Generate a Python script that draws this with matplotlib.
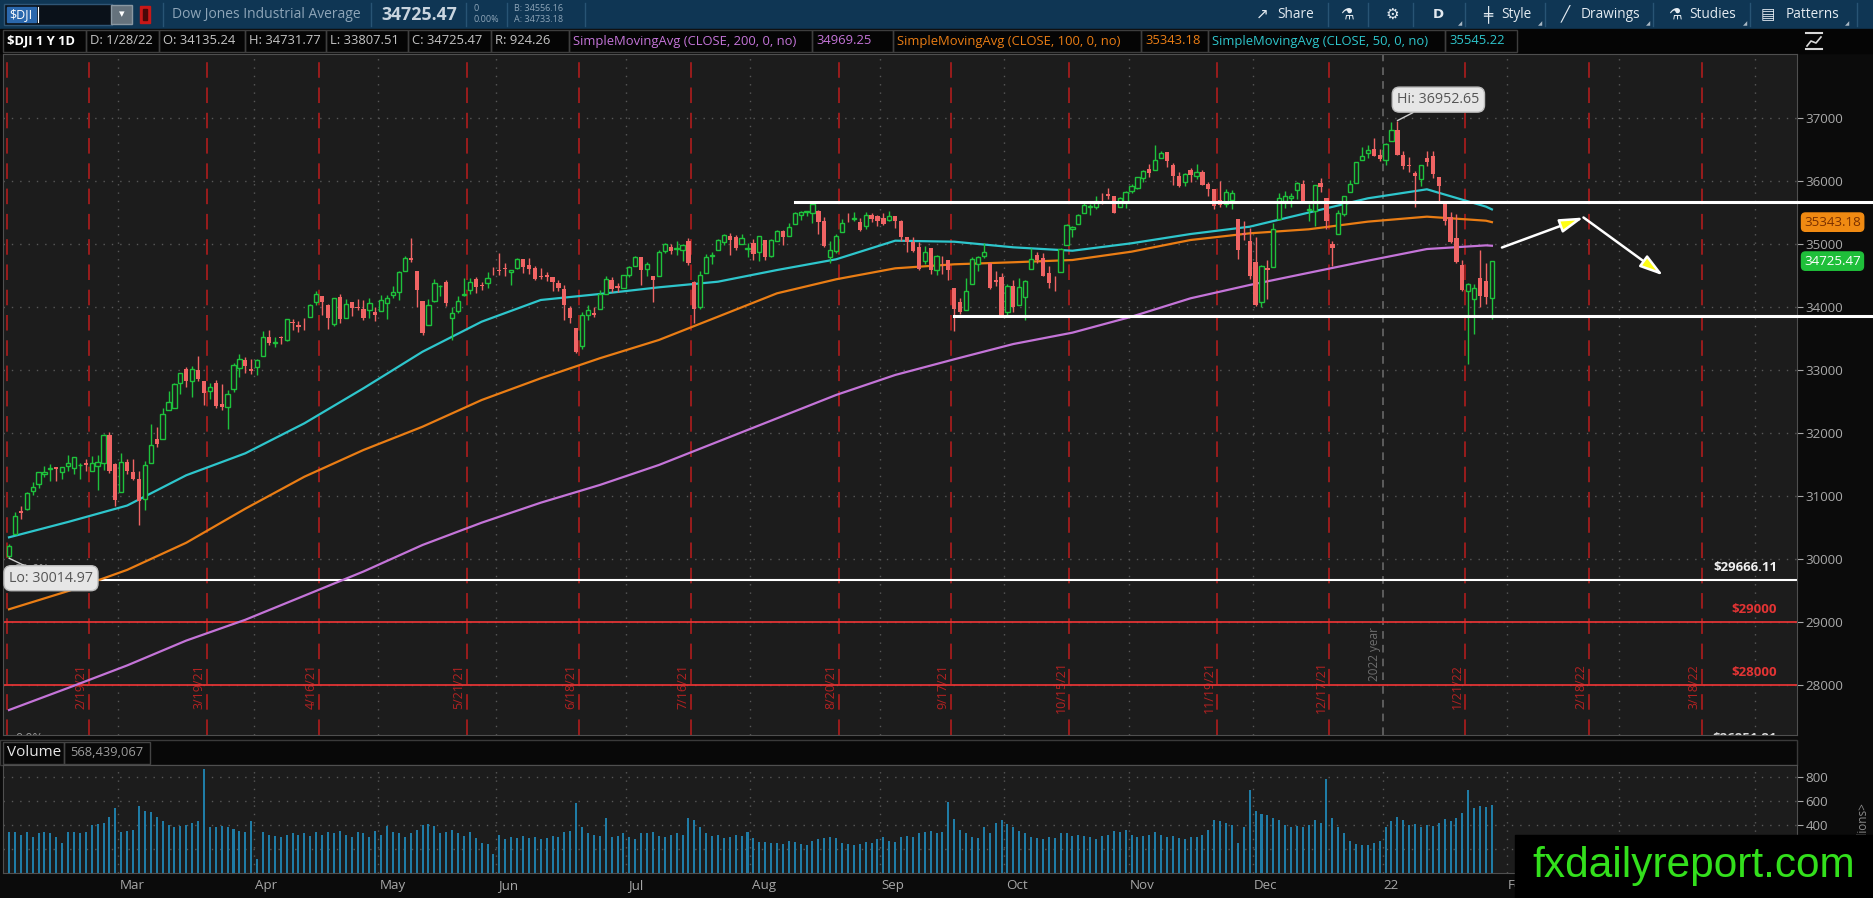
import numpy as np
import pandas as pd
import matplotlib
matplotlib.use('Agg')
import matplotlib.pyplot as plt
from matplotlib.patches import Rectangle

plt.rcParams['font.family'] = ['Open Sans', 'DejaVu Sans']

W, H = 1873, 898

# ---------------- data ----------------
holidays = ['2021-02-15', '2021-04-02', '2021-05-31', '2021-07-05', '2021-09-06',
            '2021-11-25', '2021-12-24', '2022-01-17', '2022-02-21', '2022-04-15']

opens = [
    30054, 30397, 30762, 30802, 31079, 31184, 31352, 31436, 31458, 31385, 31482, 31450, 31491, 31532, 31393, 31471, 31532, 31961, 31508,
    31066, 31540, 31383, 31273, 30946, 31532, 31902, 31907, 32359, 32400, 32793, 33010, 32820, 32994, 32826, 32666, 32787, 32465, 32405, 32699, 33023, 33158, 33021,
    33054, 33222, 33529, 33421, 33521, 33480, 33762, 33712, 33733, 33840, 34082, 34169, 34032, 33734, 34150, 33823, 34080, 33998, 33968, 33946, 33921,
    33931, 34065, 34185, 34240, 34576, 34776, 34565, 34099, 33716, 34092, 34324, 34401, 33830, 33929, 34185, 34264, 34438, 34351, 34372, 34536,
    34584, 34614, 34550, 34618, 34760, 34665, 34623, 34493, 34499, 34474, 34377, 34289, 33983, 33670, 33373, 33867, 33910, 33968, 34210, 34427, 34325, 34302,
    34507, 34643, 34788, 34604, 34486, 34483, 34887, 34953, 34916, 34900, 35044, 34402, 34005, 34540, 34807, 34894, 35035, 35120, 35107, 34998, 34914,
    35010, 34877, 35053, 34811, 35042, 35200, 35125, 35315, 35464, 35505, 35482, 35526, 35361, 34795, 34880, 35186, 35368, 35398, 35353, 35276, 35451, 35445,
    35402, 35376, 35433, 35368, 35112, 35028, 34952, 34731, 34938, 34578, 34762, 34748, 34304, 34074, 33949, 34360, 34681, 34812, 34702, 34429, 34471,
    33919, 34330, 34029, 34156, 34604, 34816, 34770, 34543, 34381, 34552, 34981, 35236, 35316, 35484, 35591, 35590, 35747, 35786, 35750, 35580, 35670,
    35834, 35892, 36050, 36185, 36162, 36356, 36452, 36247, 36082, 35976, 36174, 36068, 36136, 35945, 35875, 35687, 35623, 35701, 35400, 35176, 35040,
    34715, 34074, 34611, 34637, 35390, 35677, 35728, 35858, 35942, 35534, 35527, 35958, 35726, 35000, 35149, 35479, 35818, 35956, 36333, 36432, 36502, 36409,
    36322, 36636, 36800, 36409, 36254, 36116, 36034, 36367, 36399, 36055, 35650, 35431, 35089, 34659, 34256, 34125, 34464, 34416, 34135.24,
]
highs = [
    30248, 30743, 30841, 31058, 31228, 31386, 31469, 31512, 31467, 31459, 31644, 31614, 31522, 31583, 31636, 31647, 31992, 32010, 31519,
    31689, 31582, 31594, 31402, 31563, 32150, 32097, 32389, 32662, 32793, 32954, 33048, 33060, 33227, 32828, 32794, 32836, 32773, 32679, 33116, 33259, 33210, 33167,
    33167, 33617, 33629, 33522, 33544, 33810, 33810, 33778, 33826, 34052, 34256, 34169, 34044, 34148, 34197, 34125, 34081, 34123, 34112, 34134, 34004,
    34190, 34181, 34329, 34561, 34811, 35092, 34565, 34099, 34118, 34440, 34353, 34420, 33998, 34174, 34465, 34450, 34466, 34395, 34560, 34627,
    34849, 34703, 34580, 34772, 34760, 34778, 34652, 34624, 34553, 34479, 34424, 34341, 34014, 33671, 33920, 34027, 34005, 34260, 34482, 34472, 34375, 34508,
    34640, 34802, 34788, 34713, 34486, 34898, 35017, 35002, 35052, 35003, 35092, 34403, 34574, 34834, 34867, 35072, 35151, 35171, 35141, 35148, 35009,
    35073, 35120, 35053, 35070, 35224, 35225, 35323, 35498, 35514, 35521, 35632, 35532, 35428, 35039, 35152, 35392, 35481, 35497, 35404, 35497, 35484, 35456,
    35482, 35522, 35443, 35370, 35112, 35113, 35032, 34958, 34938, 34824, 34799, 34748, 34304, 34148, 34465, 34787, 34813, 35006, 34702, 34566, 34534,
    34366, 34429, 34459, 34421, 34937, 34875, 34857, 34651, 34493, 34932, 35310, 35284, 35470, 35670, 35636, 35765, 35798, 35892, 35751, 35744, 35833,
    35944, 36060, 36173, 36261, 36565, 36475, 36453, 36287, 36137, 36125, 36209, 36266, 36171, 35979, 35875, 35990, 35864, 35848, 35400, 35359, 35250,
    35109, 34656, 34737, 35323, 35807, 35836, 35804, 35986, 36016, 35631, 35935, 36043, 35726, 35037, 35542, 35765, 36010, 36304, 36527, 36571, 36679, 36506,
    36595, 36934, 36952.65, 36464, 36380, 36153, 36254, 36475, 36466, 36055, 35650, 35506, 35479, 34743, 34381, 34365, 34904, 34695, 34731.77,
]
lows = [
    30014.97, 30397, 30631, 30785, 31022, 31130, 31302, 31237, 31239, 31275, 31391, 31347, 31268, 31393, 31393, 31100, 31415, 31373, 30848,
    31066, 31348, 31261, 30547, 30775, 31532, 31771, 31907, 32359, 32396, 32618, 32731, 32574, 32817, 32448, 32545, 32396, 32369, 32056, 32657, 32883, 32953, 32937,
    32917, 33222, 33394, 33359, 33406, 33464, 33641, 33594, 33636, 33840, 34028, 33877, 33652, 33701, 33738, 33823, 33856, 33949, 33789, 33831, 33770,
    33931, 33809, 34137, 34104, 34576, 34714, 34000, 33547, 33716, 34084, 34173, 34021, 33473, 33900, 34180, 34210, 34225, 34268, 34300, 34500,
    34502, 34495, 34350, 34601, 34530, 34514, 34427, 34437, 34408, 34248, 34254, 33786, 33741, 33271, 33325, 33786, 33845, 33968, 34210, 34232, 34243, 34293,
    34477, 34643, 34340, 34496, 34076, 34483, 34851, 34833, 34828, 34733, 34656, 33741, 33968, 34540, 34673, 34894, 34973, 34822, 34894, 34998, 34787,
    34750, 34729, 34749, 34796, 35042, 34977, 35125, 35315, 35374, 35433, 35330, 35160, 34955, 34690, 34861, 35181, 35345, 35367, 35196, 35236, 35345, 35283,
    35301, 35367, 35251, 35048, 34868, 34876, 34584, 34682, 34516, 34511, 34528, 34419, 33613, 33887, 33949, 34360, 34568, 34776, 34283, 34332, 33839,
    33853, 33913, 34029, 33785, 34604, 34695, 34486, 34300, 34244, 34552, 34981, 35104, 35316, 35484, 35460, 35553, 35634, 35709, 35490, 35580, 35573,
    35803, 35872, 35981, 36057, 36162, 36354, 36210, 35933, 35903, 35915, 35986, 36032, 35927, 35757, 35546, 35580, 35585, 35546, 34756, 35059, 34445,
    34006, 34003, 34129, 34637, 35390, 35568, 35578, 35703, 35640, 35364, 35276, 35817, 35232, 34647, 35149, 35433, 35818, 35956, 36325, 36362, 36397, 36310,
    36247, 36636, 36407, 36181, 36142, 35577, 35914, 36231, 36048, 35653, 35293, 35010, 34690, 34258, 33100, 33569, 34001, 34040, 33807.51,
]
closes = [
    30212, 30687, 30724, 31056, 31148, 31385, 31375, 31438, 31431, 31458, 31523, 31613, 31494, 31494, 31522, 31537, 31962, 31402, 30932,
    31535, 31392, 31270, 30924, 31496, 31802, 31833, 32297, 32485, 32779, 32953, 32826, 33015, 32862, 32628, 32732, 32423, 32420, 32619, 33072, 33171, 33067, 32982,
    33153, 33527, 33430, 33446, 33504, 33801, 33746, 33677, 33730, 34036, 34200, 34078, 33821, 34137, 33815, 34043, 33981, 33985, 33821, 34061, 33875,
    34113, 34133, 34230, 34549, 34778, 34743, 34270, 33587, 34022, 34382, 34327, 34061, 33896, 34085, 34208, 34394, 34313, 34323, 34465, 34529,
    34575, 34600, 34577, 34756, 34630, 34600, 34447, 34466, 34480, 34394, 34299, 34034, 33823, 33290, 33877, 33946, 33874, 34196, 34434, 34283, 34292, 34503,
    34634, 34786, 34577, 34681, 34422, 34870, 34996, 34889, 34934, 34987, 34688, 33962, 34512, 34798, 34823, 35062, 35144, 35059, 34931, 35085, 34935,
    34838, 35117, 34793, 35065, 35209, 35102, 35265, 35485, 35500, 35515, 35625, 35343, 34961, 34894, 35120, 35336, 35367, 35406, 35213, 35456, 35400, 35361,
    35313, 35444, 35369, 35100, 35031, 34879, 34608, 34870, 34578, 34814, 34751, 34585, 33970, 33919, 34258, 34765, 34798, 34870, 34300, 34391, 33844,
    34326, 34003, 34315, 34417, 34755, 34746, 34496, 34378, 34377, 34912, 35295, 35259, 35458, 35609, 35603, 35677, 35741, 35757, 35491, 35731, 35820,
    35913, 36053, 36158, 36124, 36328, 36432, 36320, 36079, 35921, 36100, 36087, 36142, 35931, 35871, 35602, 35620, 35814, 35804, 34899, 35136, 34484,
    34022, 34640, 34580, 35227, 35719, 35754, 35755, 35971, 35651, 35545, 35927, 35898, 35365, 34932, 35493, 35754, 35951, 36302, 36398, 36488, 36398, 36338,
    36585, 36800, 36408, 36236, 36232, 36068, 36252, 36290, 36114, 35912, 35369, 35029, 34715, 34265, 34365, 34298, 34168, 34161, 34725.47,
]
volume_m = [
    345, 340, 320, 345, 300, 330, 340, 335, 300, 250, 340, 345, 330, 345, 400, 410, 420, 470, 540,
    340, 350, 360, 560, 520, 505, 470, 430, 400, 380, 390, 400, 420, 430, 870, 385, 380, 390, 380, 370, 350, 340, 430,
    120, 340, 320, 310, 300, 320, 330, 320, 330, 310, 340, 320, 340, 330, 350, 320, 300, 340, 330, 300, 350,
    320, 390, 340, 330, 300, 330, 360, 400, 410, 390, 330, 340, 360, 330, 310, 340, 290, 250, 240, 160,
    320, 280, 300, 290, 310, 290, 300, 280, 290, 310, 300, 340, 350, 580, 380, 330, 320, 310, 460, 300, 310, 330,
    300, 280, 330, 330, 340, 310, 300, 320, 330, 320, 460, 440, 380, 330, 310, 320, 290, 300, 320, 310, 340,
    290, 260, 260, 250, 250, 240, 270, 260, 240, 230, 270, 280, 290, 300, 290, 250, 240, 230, 240, 260, 250, 280,
    300, 270, 260, 300, 310, 300, 330, 340, 350, 330, 340, 590, 450, 360, 330, 300, 290, 380, 330, 420, 440,
    410, 380, 350, 330, 300, 290, 280, 300, 290, 330, 330, 310, 320, 310, 300, 280, 310, 320, 350, 340, 360,
    320, 300, 310, 320, 340, 320, 300, 310, 290, 280, 300, 300, 320, 360, 440, 430, 420, 400, 250, 380, 690,
    520, 490, 480, 460, 440, 400, 380, 390, 380, 400, 440, 420, 780, 460, 380, 330, 270, 240, 230, 230, 250, 270,
    380, 430, 470, 440, 400, 410, 380, 400, 390, 420, 450, 430, 460, 500, 690, 540, 560, 550, 568.4,
]
last_volume = 568439067

# moving averages read every 10 sessions
ma_idx = list(range(0, 251, 10)) + [251]
sma50 = [30346, 30590, 30850, 31330, 31678, 32154, 32709, 33289, 33765, 34109, 34204, 34310, 34399,
         34584, 34754, 35049, 35033, 34944, 34890, 35008, 35155, 35271, 35495, 35721, 35864, 35589, 35545.22]
sma100 = [29205, 29494, 29830, 30260, 30800, 31307, 31731, 32100, 32523, 32867, 33185, 33475, 33844,
          34215, 34437, 34611, 34675, 34707, 34743, 34875, 35060, 35166, 35230, 35351, 35430, 35366, 35343.18]
sma200 = [27608, 27958, 28315, 28709, 29039, 29421, 29804, 30225, 30578, 30895, 31176, 31493, 31863,
          32233, 32603, 32920, 33169, 33411, 33591, 33844, 34136, 34347, 34540, 34732, 34917, 34975, 34969.25]

expiries = ['2021-02-19', '2021-03-19', '2021-04-16', '2021-05-21', '2021-06-18', '2021-07-16',
            '2021-08-20', '2021-09-17', '2021-10-15', '2021-11-19', '2021-12-17', '2022-01-21',
            '2022-02-18', '2022-03-18']

fib_236 = 29666.11
fib_0 = 26851.81
red_levels = [29000, 28000]
resistance, resistance_from = 35668, '2021-08-11'
support, support_from = 33860, '2021-09-20'
arrow_x = [252.7, 266.5, 280.0]
arrow_y = [34941, 35417, 34497]
bid, ask = 34556.16, 34733.18

# ---------------- helpers ----------------
n = len(closes)
days = pd.bdate_range('2021-02-01', '2022-04-29', freq='C', holidays=holidays)


def pos(date):
    i = days.get_loc(pd.Timestamp(date))
    return i + 1 if i >= n else i


months = pd.period_range('2021-03', '2022-04', freq='M')
month_pos = [pos(days[days.to_period('M') == p][0]) - 0.5 for p in months]
month_lab = ['22' if p.month == 1 else p.strftime('%b') for p in months]

px0, step = 9.0, 5.908          # bar 0 sits at pixel 9, one session = 5.9 px
x_left = (3 - px0) / step
x_right = (1797 - px0) / step
x_fig_end = (W - px0) / step + 1

panel = '#1c1c1c'
green, red = '#1ec23c', '#f06464'
c200, c100, c50 = '#c474d8', '#ea7d14', '#2ec6cc'
grid_kw = dict(color='#585858', lw=1, ls=(0, (1, 5)), zorder=0.5)
sym = ['DejaVu Sans']

# ---------------- figure ----------------
fig = plt.figure(figsize=(W / 100, H / 100), dpi=100, facecolor='#0b0b0b')

bg = fig.add_axes([0, 0, 1, 1], zorder=0)
bg.set_xlim(0, W)
bg.set_ylim(H, 0)
bg.axis('off')

# top toolbar
bg.add_patch(Rectangle((0, 0), W, 29, color='#0f3654'))
bg.add_patch(Rectangle((4, 4), 108, 21, fc='#0a1119', ec='#2f5575', lw=1))
bg.add_patch(Rectangle((7, 7), 29, 15, color='#2b68ad'))
bg.text(9, 14.5, '$DJI', color='white', fontsize=9, va='center')
bg.plot([38, 38], [7, 22], color='white', lw=0.8)
bg.add_patch(Rectangle((111, 5), 21, 19, fc='#65727c', ec='#8a98a2', lw=1))
bg.text(121.5, 14.5, '▾', color='white', fontsize=8, ha='center', va='center', family=sym)
bg.add_patch(Rectangle((140, 6), 10, 17, color='#c81818'))
bg.add_patch(Rectangle((143, 9), 4, 11, color='#4a0808'))
for sx in [163, 371, 466, 507, 585, 1328, 1368, 1413, 1465, 1545, 1653, 1750, 1857]:
    bg.plot([sx, sx], [3, 26], color='#285474', lw=1)
hdr = '#8ea5b8'
bg.text(172, 14.5, 'Dow Jones Industrial Average', color=hdr, fontsize=10, va='center')
bg.text(381, 14.5, f'{closes[-1]:.2f}', color='#c9d5df', fontsize=12.8, weight='bold', va='center')
bg.text(474, 8.5, '0', color=hdr, fontsize=6.5, va='center')
bg.text(474, 20, '0.00%', color=hdr, fontsize=6.5, va='center')
bg.text(514, 8.5, f'B: {bid:.2f}', color=hdr, fontsize=6.5, va='center')
bg.text(514, 20, f'A: {ask:.2f}', color=hdr, fontsize=6.5, va='center')

tb = '#e4ebf1'
tools = [(1262, '↗', 1277, 'Share'), (1347, '⚗', None, ''), (1392, '⚙', None, ''),
         (1438, 'D', None, ''), (1488, '╪', 1501, 'Style'), (1565, '╱', 1581, 'Drawings'),
         (1675, '⚗', 1689, 'Studies'), (1768, '▤', 1786, 'Patterns')]
for ix, icon, tx, label in tools:
    bg.text(ix, 14.5, icon, color=tb, fontsize=11 if icon != 'D' else 9.5, ha='center',
            va='center', family=sym, weight='bold' if icon == 'D' else 'normal')
    if tx:
        bg.text(tx, 14.5, label, color=tb, fontsize=9.8, va='center')
for tx in [1460, 1540, 1648, 1745, 1847]:
    bg.text(tx, 24, '◢', color='#a9b8c4', fontsize=4, ha='center', va='center', family=sym)

# study / quote row
bg.add_patch(Rectangle((0, 29), W, 24, color='#050505'))
edges = [3, 86, 159, 245, 326, 408, 491, 569, 812, 893, 1141, 1208, 1445, 1517]
grey_t = '#c4c4c4'
items = [('$DJI 1 Y 1D', 'white'), ('D: 1/28/22', grey_t),
         (f'O: {opens[-1]:.2f}', grey_t), (f'H: {highs[-1]:.2f}', grey_t),
         (f'L: {lows[-1]:.2f}', grey_t), (f'C: {closes[-1]:.2f}', grey_t),
         (f'R: {highs[-1] - lows[-1]:.2f}', grey_t),
         ('SimpleMovingAvg (CLOSE, 200, 0, no)', c200), (f'{sma200[-1]:.2f}', c200),
         ('SimpleMovingAvg (CLOSE, 100, 0, no)', c100), (f'{sma100[-1]:.2f}', c100),
         ('SimpleMovingAvg (CLOSE, 50, 0, no)', c50), (f'{sma50[-1]:.2f}', c50)]
for (x0, x1), (txt, col) in zip(zip(edges[:-1], edges[1:]), items):
    bg.add_patch(Rectangle((x0, 30), x1 - x0, 22, fc='none', ec='#3e3e3e', lw=1))
    bold = txt.startswith('$')
    bg.text(x0 + 4, 41, txt, color=col, fontsize=9.4, va='center',
            weight='bold' if bold else 'normal')
bg.plot([1806, 1822], [49, 49], color='#d8d8d8', lw=1.5)
bg.plot([1806, 1822], [33, 33], color='#d8d8d8', lw=1.5)
bg.plot([1807, 1811, 1816, 1821], [46, 41, 43, 37], color='#d8d8d8', lw=1.2)

# volume header row
bg.add_patch(Rectangle((0, 740), 1797, 25, fc='#080808', ec='#3a3a3a', lw=1))
bg.add_patch(Rectangle((3, 742), 61, 22, fc='none', ec='#444444', lw=1))
bg.add_patch(Rectangle((64, 742), 86, 22, fc='none', ec='#444444', lw=1))
bg.text(7, 753, 'Volume', color='#e6e6e6', fontsize=11, va='center')
bg.text(70, 753, f'{last_volume:,}', color='#9c9c9c', fontsize=9.3, va='center')
bg.text(1862, 850, 'Millions>', color='#8a8a8a', fontsize=8.5, rotation=90, ha='center', va='bottom')

# ---------------- price panel ----------------
ax = fig.add_axes([3 / W, 1 - 735 / H, 1794 / W, 681 / H], zorder=2)
ax.set_facecolor(panel)
ax.set_xlim(x_left, x_right)
ax.set_ylim(27212, 38009)
ax.set_xticks([])
ax.yaxis.tick_right()
ax.set_yticks(np.arange(28000, 38000, 1000))
ax.tick_params(axis='y', colors='#a9a9a9', labelsize=9.6, length=4, pad=2)
for s in ax.spines.values():
    s.set_color('#4f4f4f')
for v in ax.get_yticks():
    ax.axhline(v, **grid_kw)
for p, lab in zip(month_pos, month_lab):
    if lab == '22':
        ax.axvline(p, color='#6e6e6e', lw=1.1, ls=(0, (5, 4)), zorder=0.6)
        ax.text(p - 0.35, 28500, '2022 year', rotation=90, color='#6e6e6e', fontsize=8.5,
                ha='right', va='center')
    else:
        ax.axvline(p, **grid_kw)

# option expiration lines
ax.axvline(-0.3, color='#9a1c1c', lw=1.4, ls=(0, (8, 5)), zorder=0.7)
for d in expiries:
    t = pd.Timestamp(d)
    xp = pos(t) + 0.5
    ax.axvline(xp, color='#9a1c1c', lw=1.4, ls=(0, (8, 5)), zorder=0.7)
    ax.text(xp - 0.25, 27980, f'{t.month}/{t.day}/{t:%y}', rotation=90, color='#b32222',
            fontsize=9, ha='right', va='center', zorder=0.8)

# horizontal levels
ax.axhline(fib_236, color='white', lw=1.5, zorder=1)
for lv in red_levels:
    ax.axhline(lv, color='#e23434', lw=1.3, zorder=1)
ylab = ax.get_yaxis_transform()
ax.annotate(f'${fib_236:.2f}', xy=(0.989, fib_236), xycoords=ylab, xytext=(0, 13),
            textcoords='offset pixels', ha='right', va='center', color='#f0f0f0',
            fontsize=9.5, weight='bold')
for lv in red_levels:
    ax.annotate(f'${lv}', xy=(0.989, lv), xycoords=ylab, xytext=(0, 13),
                textcoords='offset pixels', ha='right', va='center', color='#e23434',
                fontsize=9.5, weight='bold')
ax.text(0.989, 27150, f'${fib_0:.2f}', transform=ylab, ha='right', va='center',
        color='#d8d8d8', fontsize=9.5, weight='bold', clip_on=True)
ax.text(1.0, 29830, '23.6%', color='#9a9a9a', fontsize=9, va='center', zorder=3)
ax.text(1.0, 27150, '0.0%', color='#9a9a9a', fontsize=9, va='center', zorder=3, clip_on=True)

# moving averages
ax.plot(ma_idx, sma200, color=c200, lw=1.6, zorder=2.5)
ax.plot(ma_idx, sma100, color=c100, lw=1.6, zorder=2.5)
ax.plot(ma_idx, sma50, color=c50, lw=1.6, zorder=2.5)

# candles
xs = np.arange(n)
o, h, l, c = (np.array(a, dtype=float) for a in (opens, highs, lows, closes))
up = c >= o
ax.vlines(xs[up], l[up], h[up], color=green, lw=1, zorder=3)
ax.vlines(xs[~up], l[~up], h[~up], color=red, lw=1, zorder=3)
ax.bar(xs[up], (c - o)[up], bottom=o[up], width=0.72, facecolor=panel, edgecolor=green,
       lw=1, zorder=4)
ax.bar(xs[~up], (o - c)[~up], bottom=c[~up], width=0.72, color=red, zorder=4)

# drawn support / resistance
ax.plot([pos(resistance_from), x_fig_end], [resistance] * 2, color='white', lw=2.2,
        clip_on=False, zorder=6)
ax.plot([pos(support_from), x_fig_end], [support] * 2, color='white', lw=2.2,
        clip_on=False, zorder=6)

# projected path
for i in range(len(arrow_x) - 1):
    ax.annotate('', xy=(arrow_x[i + 1], arrow_y[i + 1]), xytext=(arrow_x[i], arrow_y[i]),
                arrowprops=dict(arrowstyle='-|>,head_length=0.95,head_width=0.28',
                                mutation_scale=15, fc='#ffff14', ec='white', lw=1.8,
                                shrinkA=0, shrinkB=0), zorder=7)

# hi / lo bubbles
i_hi = int(np.argmax(h))
i_lo = int(np.argmin(l))
bub = dict(boxstyle='round,pad=0.35,rounding_size=0.5', fc='#e6e6e6', ec='#bdbdbd', lw=1)
ax.annotate(f'Hi: {h[i_hi]:.2f}', xy=(i_hi, h[i_hi]), xytext=(41, 21),
            textcoords='offset pixels', ha='center', va='center', color='#555555',
            fontsize=10.3, bbox=bub, zorder=8,
            arrowprops=dict(arrowstyle='-', color='#cfcfcf', lw=1, shrinkA=0, shrinkB=0))
ax.annotate(f'Lo: {l[i_lo]:.2f}', xy=(i_lo, l[i_lo]), xytext=(42, -20),
            textcoords='offset pixels', ha='center', va='center', color='#555555',
            fontsize=10.3, bbox=bub, zorder=8,
            arrowprops=dict(arrowstyle='-', color='#cfcfcf', lw=1, shrinkA=0, shrinkB=0))

# last-value flags on the price scale
ax.text(1.004, sma100[-1], f'{sma100[-1]:.2f}', transform=ylab, ha='left', va='center',
        color='#7a3000', fontsize=9.6, clip_on=False, zorder=9,
        bbox=dict(boxstyle='round,pad=0.2,rounding_size=0.3', fc='#f08a12', ec='#f08a12'))
ax.text(1.004, closes[-1], f'{closes[-1]:.2f}', transform=ylab, ha='left', va='center',
        color='white', fontsize=9.6, clip_on=False, zorder=9,
        bbox=dict(boxstyle='round,pad=0.2,rounding_size=0.3', fc='#1fbf3a', ec='#1fbf3a'))

# ---------------- volume panel ----------------
axv = fig.add_axes([3 / W, 1 - 873 / H, 1794 / W, 108 / H], zorder=2)
axv.set_facecolor(panel)
axv.set_xlim(x_left, x_right)
axv.set_ylim(0, 900)
axv.set_xticks([])
axv.yaxis.tick_right()
axv.set_yticks([200, 400, 600, 800])
axv.tick_params(axis='y', colors='#a9a9a9', labelsize=9.6, length=4, pad=2)
for s in axv.spines.values():
    s.set_color('#4f4f4f')
for v in axv.get_yticks():
    axv.axhline(v, **grid_kw)
for p in month_pos:
    axv.axvline(p, **grid_kw)
axv.bar(xs, volume_m, width=0.34, color='#1f7ca6', zorder=2)
xlab = axv.get_xaxis_transform()
for p, lab in zip(month_pos, month_lab):
    axv.text(p + 0.2, -0.12, lab, transform=xlab, color='#a6a6a6', fontsize=9.6,
             ha='left', va='center', clip_on=False)

# ---------------- watermark ----------------
ov = fig.add_axes([0, 0, 1, 1], zorder=10)
ov.set_xlim(0, W)
ov.set_ylim(H, 0)
ov.axis('off')
ov.add_patch(Rectangle((1515, 835), W - 1515, H - 835, color='#000000'))
ov.text(1694, 866, 'fxdailyreport.com', color='#33e01c', fontsize=30.5,
        family=['Liberation Sans', 'DejaVu Sans'], ha='center', va='center')

fig.savefig('out.png', dpi=100, facecolor=fig.get_facecolor())
